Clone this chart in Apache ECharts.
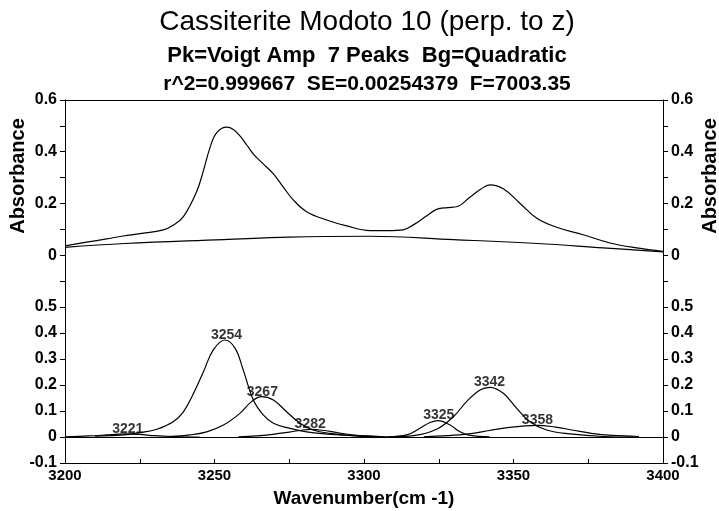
<!DOCTYPE html>
<html><head><meta charset="utf-8">
<script src="https://cdn.jsdelivr.net/npm/echarts@6/dist/echarts.min.js"></script>
<style>html,body{margin:0;padding:0;background:#fff}#c{width:719px;height:511px}</style>
</head><body><div id="c"></div>
<script>
// ---- text ----
const titleText = 'Cassiterite Modoto 10 (perp. to z)';
const subtitleText = 'Pk=Voigt Amp  7 Peaks  Bg=Quadratic';
const statsText = 'r^2=0.999667  SE=0.00254379  F=7003.35';
const xName = 'Wavenumber(cm -1)';
const yName = 'Absorbance';

// ---- top panel: total fit and quadratic baseline ----
const totalWn  = [3200, 3207.2, 3213.9, 3219.5, 3225.1, 3232.9, 3236.3, 3239.6, 3244.0, 3246.3, 3248.5, 3250.7, 3254.1, 3256.3, 3258.5, 3260.8, 3263.0, 3266.3, 3269.7, 3273.0, 3276.4, 3280.8, 3287.5, 3294.2, 3302.0, 3308.0, 3313.1, 3316.5, 3321.0, 3324.3, 3328.0, 3331.0, 3335.5, 3339.0, 3342.1, 3346.6, 3352.2, 3357.8, 3364.4, 3373.3, 3382.3, 3391.2, 3400];
const totalAbs = [0.036, 0.050, 0.063, 0.074, 0.083, 0.098, 0.117, 0.149, 0.245, 0.327, 0.416, 0.473, 0.495, 0.486, 0.461, 0.426, 0.391, 0.353, 0.314, 0.263, 0.213, 0.168, 0.136, 0.113, 0.095, 0.095, 0.098, 0.117, 0.152, 0.177, 0.184, 0.187, 0.225, 0.255, 0.272, 0.257, 0.200, 0.143, 0.108, 0.079, 0.047, 0.028, 0.015];
const baseWn  = [3200, 3220, 3253, 3275, 3302, 3330, 3358, 3380, 3400];
const baseAbs = [0.030, 0.045, 0.060, 0.070, 0.073, 0.060, 0.045, 0.028, 0.013];

// ---- bottom panel: the 7 fitted peaks [wavenumber, absorbance] ----
const peak3221 = [[3200,0.001],[3208,0.004],[3214,0.008],[3218,0.011],[3221,0.012],[3225,0.010],[3230,0.005],[3236,0.002],[3245,0.000]];
const peak3254 = [[3210,0.003],[3219.5,0.008],[3225,0.017],[3230.7,0.030],[3236.2,0.059],[3239.6,0.097],[3243,0.168],[3246.3,0.251],[3249.6,0.335],[3253.5,0.373],[3256.9,0.341],[3259.6,0.258],[3263,0.142],[3266.3,0.085],[3269.7,0.053],[3275.3,0.033],[3280.8,0.020],[3292,0.008],[3305,0.002]];
const peak3267 = [[3235,0.002],[3241.8,0.008],[3247.4,0.020],[3253,0.046],[3258.5,0.091],[3262.4,0.136],[3265.7,0.155],[3269.7,0.142],[3274.1,0.097],[3278.6,0.053],[3283,0.027],[3288.6,0.014],[3297.5,0.004],[3305,0.001]];
const peak3282 = [[3258,0.001],[3264,0.004],[3270,0.011],[3275,0.019],[3279,0.026],[3282,0.029],[3286,0.026],[3291,0.017],[3296,0.008],[3302,0.003],[3310,0.000]];
const peak3325 = [[3308,0.001],[3314.3,0.008],[3318.6,0.033],[3322.1,0.056],[3324.8,0.063],[3328.8,0.046],[3332.1,0.020],[3335.5,0.006],[3342,0.001]];
const peak3342 = [[3310,0.001],[3316.5,0.005],[3324.3,0.030],[3329.9,0.078],[3334.3,0.136],[3338.8,0.181],[3342.1,0.191],[3346.6,0.168],[3351.1,0.110],[3355.5,0.059],[3361.1,0.027],[3368.9,0.012],[3380,0.002],[3390,0.000]];
const peak3358 = [[3320,0.001],[3328,0.005],[3335,0.012],[3342,0.025],[3348,0.036],[3353,0.042],[3358,0.045],[3364,0.038],[3370,0.026],[3376,0.014],[3383,0.006],[3392,0.002]];
const peakCurves = [peak3221, peak3254, peak3267, peak3282, peak3325, peak3342, peak3358];

// ---- peak labels ----
const peakNames   = ['3221', '3254', '3267', '3282', '3325', '3342', '3358'];
const peakCenters = [3221, 3254, 3266, 3282, 3325, 3342, 3358];
const peakHeights = [0.012, 0.373, 0.155, 0.029, 0.063, 0.191, 0.045];

// ---- axis ranges ----
const xMin = 3200, xMax = 3400, xStep = 25, xLabelStep = 50;
const yMin = -0.1, yMax = 0.6, yStep = 0.1;

const FONT = 'Liberation Sans, Arial, Helvetica, sans-serif';
const fmtY = v => String(Math.round(v * 10) / 10);
const topLabel = v => { const k = Math.round(v * 10); return (k >= 0 && k % 2 === 0) ? fmtY(v) : ''; };
const botLabel = v => { const k = Math.round(v * 10); return k <= 5 ? fmtY(v) : ''; };

function yAxisDef(grid, pos, fmt) {
  return {
    type: 'value', gridIndex: grid, position: pos, min: yMin, max: yMax, interval: yStep,
    axisLine: { show: true, onZero: false, lineStyle: { color: '#000', width: 1 } },
    axisTick: { show: true, inside: false, length: 5, lineStyle: { color: '#000' } },
    axisLabel: { formatter: fmt, margin: 8, color: '#000', fontFamily: FONT, fontSize: 16, fontWeight: 'bold' },
    splitLine: { show: false }
  };
}

const lineStyle = { color: '#000', width: 1.2 };
const curve = (xi, yi, data) => ({ type: 'line', xAxisIndex: xi, yAxisIndex: yi, data,
  showSymbol: false, smooth: 0.4, lineStyle, silent: true });

const series = [
  curve(0, 0, totalWn.map((w, i) => [w, totalAbs[i]])),
  curve(0, 0, baseWn.map((w, i) => [w, baseAbs[i]]))
];
peakCurves.forEach((pc, idx) => {
  const s = curve(1, 2, pc);
  if (idx === 0) {
    s.markLine = { silent: true, symbol: 'none', label: { show: false },
      lineStyle: { color: '#000', width: 1.2, type: 'solid' }, data: [{ yAxis: 0 }] };
  }
  series.push(s);
});
series.push({
  type: 'scatter', xAxisIndex: 1, yAxisIndex: 2, symbolSize: 0, silent: true,
  data: peakNames.map((n, i) => ({ name: n, value: [peakCenters[i], peakHeights[i]] })),
  label: { show: true, position: 'top', distance: -2, formatter: p => p.name,
    color: '#000', fontFamily: FONT, fontSize: 14, fontWeight: 'bold' }
});

const option = {
  animation: false,
  backgroundColor: '#fff',
  grid: [
    { left: 65, right: 56, top: 100, height: 181 },
    { left: 65, right: 56, top: 281, height: 182 }
  ],
  xAxis: [
    { type: 'value', gridIndex: 0, position: 'top', min: xMin, max: xMax, interval: xStep,
      axisLine: { show: true, onZero: false, lineStyle: { color: '#000', width: 1 } },
      axisTick: { show: false }, axisLabel: { show: false }, splitLine: { show: false } },
    { type: 'value', gridIndex: 1, position: 'bottom', min: xMin, max: xMax, interval: xStep,
      axisLine: { show: true, onZero: false, lineStyle: { color: '#000', width: 1 } },
      axisTick: { show: true, inside: true, length: 4, lineStyle: { color: '#000' } },
      axisLabel: { formatter: v => (v % xLabelStep === 0 ? String(v) : ''), margin: 5, color: '#000',
        fontFamily: FONT, fontSize: 15, fontWeight: 'bold' },
      splitLine: { show: false },
      name: xName, nameLocation: 'middle', nameGap: 26,
      nameTextStyle: { color: '#000', fontFamily: FONT, fontSize: 19, fontWeight: 'bold' } }
  ],
  yAxis: [
    yAxisDef(0, 'left', topLabel),
    yAxisDef(0, 'right', topLabel),
    yAxisDef(1, 'left', botLabel),
    yAxisDef(1, 'right', botLabel)
  ],
  graphic: [
    { type: 'text', x: 367, y: 22, style: { text: titleText, textAlign: 'center', textVerticalAlign: 'middle',
      fill: '#000', font: 'normal 28px ' + FONT } },
    { type: 'text', x: 367, y: 56, style: { text: subtitleText, textAlign: 'center', textVerticalAlign: 'middle',
      fill: '#000', font: 'bold 22px ' + FONT } },
    { type: 'text', x: 367, y: 84, style: { text: statsText, textAlign: 'center', textVerticalAlign: 'middle',
      fill: '#000', font: 'bold 21px ' + FONT } },
    { type: 'text', x: 18, y: 176, rotation: Math.PI / 2, style: { text: yName, textAlign: 'center', textVerticalAlign: 'middle',
      fill: '#000', font: 'bold 20px ' + FONT } },
    { type: 'text', x: 710, y: 176, rotation: Math.PI / 2, style: { text: yName, textAlign: 'center', textVerticalAlign: 'middle',
      fill: '#000', font: 'bold 20px ' + FONT } }
  ],
  series
};
const chart = echarts.init(document.getElementById('c'), null, { renderer: 'canvas' });
chart.setOption(option);
</script>
</body></html>
